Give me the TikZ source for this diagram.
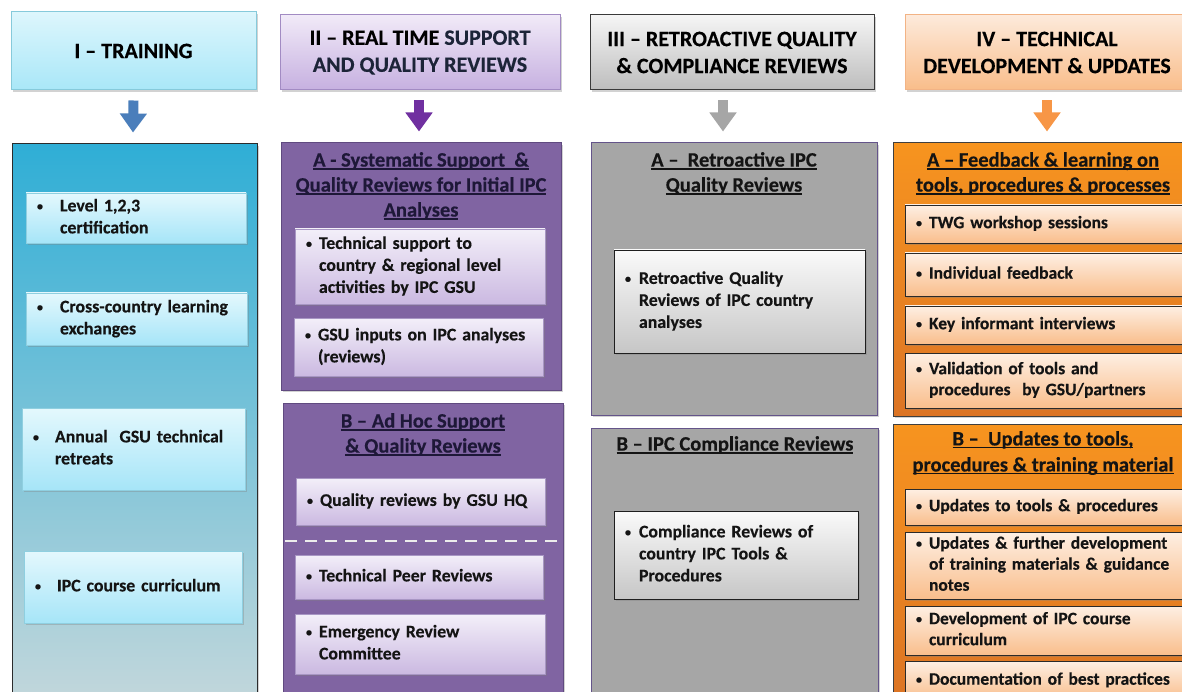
\documentclass[tikz,border=0pt]{standalone}
\usepackage{fontspec}
\setmainfont{Carlito}[BoldFeatures={FakeBold=0.35}]
\usetikzlibrary{shadows,arrows.meta,calc}

\definecolor{hAtop}{HTML}{DDF6FC}\definecolor{hAbot}{HTML}{A9E7F8}\definecolor{hAdraw}{HTML}{86CADB}
\definecolor{arA}{HTML}{4A7EBB}
\definecolor{mAtop}{HTML}{2FAED6}\definecolor{mAbot}{HTML}{C3D7DB}\definecolor{mAdraw}{HTML}{2B2B2B}
\definecolor{iAtop}{HTML}{E4F8FD}\definecolor{iAbot}{HTML}{A6E5F8}\definecolor{iAdraw}{HTML}{8FCFE0}
\definecolor{hBtop}{HTML}{F1EAF8}\definecolor{hBbot}{HTML}{C6B0E0}\definecolor{hBdraw}{HTML}{A28BC3}
\definecolor{arB}{HTML}{7030A0}
\definecolor{mB}{HTML}{8064A2}\definecolor{mBdraw}{HTML}{604A80}
\definecolor{iBtop}{HTML}{F3EFF9}\definecolor{iBbot}{HTML}{CBB9E1}\definecolor{iBdraw}{HTML}{A896C4}
\definecolor{tB}{HTML}{1E1838}\definecolor{hBtxt}{HTML}{1C2438}
\definecolor{hCtop}{HTML}{F5F5F5}\definecolor{hCbot}{HTML}{BDBDBD}\definecolor{hCdraw}{HTML}{3A3A3A}
\definecolor{arC}{HTML}{A6A6A6}
\definecolor{mC}{HTML}{A6A6A6}\definecolor{mCdraw}{HTML}{64548A}
\definecolor{iCtop}{HTML}{FAFAFA}\definecolor{iCbot}{HTML}{C6C6C6}\definecolor{iCdraw}{HTML}{1E1E1E}
\definecolor{hDtop}{HTML}{FDEADB}\definecolor{hDbot}{HTML}{F9BD8A}\definecolor{hDdraw}{HTML}{F2B385}
\definecolor{arD}{HTML}{F79646}
\definecolor{mDtop}{HTML}{F7941F}\definecolor{mDbot}{HTML}{DC7424}\definecolor{mDdraw}{HTML}{3F3F3F}
\definecolor{iDtop}{HTML}{FEEFE3}\definecolor{iDbot}{HTML}{F9BE8C}\definecolor{iDdraw}{HTML}{2A2A2A}
\definecolor{txt}{HTML}{141414}

\newcommand\smbul{\raisebox{1.2pt}{\fontsize{12}{12}\selectfont\textbullet}}
\newcommand\bitem[2][13pt]{\begin{tabular}{@{}p{#1}@{}l@{}}\smbul&\begin{tabular}[t]{@{}l@{}}#2\end{tabular}\end{tabular}}
\newcommand\ulx[1]{\setbox0=\hbox{#1}\rlap{\rule[-3pt]{\wd0}{1.1pt}}\box0}

\tikzset{
  sz/.style n args={3}{minimum width=#1pt, minimum height=#2pt, text width=#3pt},
  shd/.style={drop shadow={shadow xshift=1.5pt, shadow yshift=-2pt, opacity=0.35}},
  hdr/.style={rectangle, inner sep=0pt, align=center, line width=1pt, shd,
    font=\fontsize{22}{27}\selectfont\bfseries, text=black},
  panel/.style={rectangle, inner sep=0pt, line width=1pt, shd},
  ttl/.style={inner sep=0pt, align=center, font=\fontsize{20.5}{25}\selectfont\bfseries},
  itembox/.style={rectangle, inner xsep=11pt, inner ysep=0pt, align=left, line width=0.8pt, shd,
    font=\fontsize{17.8}{22}\selectfont\bfseries, text=txt},
  itA/.style={itembox, draw=iAdraw, top color=iAtop, bottom color=iAbot},
  itB/.style={itembox, draw=iBdraw, top color=iBtop, bottom color=iBbot},
  itC/.style={itembox, draw=iCdraw, top color=iCtop, bottom color=iCbot},
  itD/.style={itembox, draw=iDdraw, top color=iDtop, bottom color=iDbot, font=\fontsize{17.5}{21}\selectfont\bfseries},
  blkarrow/.style={draw=#1, line width=10pt, -{Triangle[width=26pt,length=19pt]}},
  sepline/.style={draw=white!85!gray, line width=1.6pt, dash pattern=on 12pt off 8pt}
}

\begin{document}
\begin{tikzpicture}[x=1pt,y=-1pt]
\useasboundingbox (0,0) rectangle (1182,692);
\fill[white] (0,0) rectangle (1182,692);
\clip (0,0) rectangle (1182,692);

% ---------- Column I ----------
\node[hdr, draw=hAdraw, top color=hAtop, bottom color=hAbot, minimum width=245pt, minimum height=78pt] (h1) at (133.5,51) {I – TRAINING};
\node[panel, draw=mAdraw, top color=mAtop, bottom color=mAbot, minimum width=245pt, minimum height=560pt] (m1) at (134.5,424) {};
\draw[blkarrow=arA] ($(h1.south)+(0,10)$) -- ($(m1.north)+(-1.5,-11)$);
\node[itA, sz={220}{50}{198}] (a1) at (136,218) {\bitem[23pt]{Level 1,2,3\\certification}};
\node[itA, sz={221}{52}{199}] (a2) at (136.5,319) {\bitem[23pt]{Cross-country learning\\exchanges}};
\node[itA, sz={223}{82}{201}] (a3) at (133.5,449) {\bitem[22pt]{Annual~ GSU technical\\retreats}};
\node[itA, sz={218}{72}{196}] (a4) at (133,587) {\bitem[22pt]{IPC course curriculum}};

% ---------- Column II ----------
\node[hdr, draw=hBdraw, top color=hBtop, bottom color=hBbot, minimum width=280pt, minimum height=75pt] (h2) at (420,52.5) {II – REAL TIME \textcolor{hBtxt}{SUPPORT}\\\textcolor{hBtxt}{AND QUALITY REVIEWS}};
\node[panel, draw=mBdraw, fill=mB, minimum width=280pt, minimum height=247pt] (bA2) at (421,266.5) {};
\node[panel, draw=mBdraw, fill=mB, minimum width=280pt, minimum height=300pt] (bB2) at (423,553) {};
\draw[blkarrow=arB] ($(h2.south)+(-1,10)$) -- ($(bA2.north)+(-2,-11)$);
\node[ttl, text=tB] (tA2) at (421,186) {\ulx{A - Systematic Support~ \&}\\\ulx{Quality Reviews for Initial IPC}\\\ulx{Analyses}};
\node[itB, sz={250}{75}{228}] (b1) at (420,266.5) {\bitem{Technical support to\\country \& regional level\\activities by IPC GSU}};
\node[itB, sz={249}{58}{227}] (b2) at (418.5,347) {\bitem{GSU inputs on IPC analyses\\(reviews)}};
\node[ttl, text=tB] (tB2) at (423,434.5) {\ulx{B – Ad Hoc Support}\\\ulx{\& Quality Reviews}};
\node[itB, sz={249}{47}{227}] (b3) at (420.5,501.5) {\bitem{Quality reviews by GSU HQ}};
\coordinate (d1) at (285,541);
\coordinate (d2) at (560,541);
\draw[sepline] (d1) -- (d2);
\node[itB, sz={248}{44}{226}] (b4) at (419,577) {\bitem{Technical Peer Reviews}};
\node[itB, sz={250}{60}{228}] (b5) at (420,644) {\bitem{Emergency Review\\Committee}};

% ---------- Column III ----------
\node[hdr, draw=hCdraw, top color=hCtop, bottom color=hCbot, minimum width=284pt, minimum height=75pt] (h3) at (732,52.5) {III – RETROACTIVE QUALITY\\\& COMPLIANCE REVIEWS};
\node[panel, draw=mCdraw, fill=mC, minimum width=286pt, minimum height=272pt] (bA3) at (734,279) {};
\node[panel, draw=mCdraw, fill=mC, minimum width=287pt, minimum height=276pt] (bB3) at (734.5,566) {};
\draw[blkarrow=arC] ($(h3.south)+(-9,10)$) -- ($(bA3.north)+(-11,-11)$);
\node[ttl, text=txt] (tA3) at (734,173.5) {\ulx{A –~ Retroactive IPC}\\\ulx{Quality Reviews}};
\node[itC, sz={251}{103}{229}] (c1) at (739.5,301.5) {\bitem[14pt]{Retroactive Quality\\Reviews of IPC country\\analyses}};
\node[ttl, text=txt] (tB3) at (735,445) {\ulx{B – IPC Compliance Reviews}};
\node[itC, sz={244}{88}{222}] (c2) at (736,555) {\bitem[14pt]{Compliance Reviews of\\country IPC Tools \&\\Procedures}};

% ---------- Column IV ----------
\node[hdr, draw=hDdraw, top color=hDtop, bottom color=hDbot, minimum width=284pt, minimum height=75pt] (h4) at (1047,52.5) {IV – TECHNICAL\\DEVELOPMENT \& UPDATES};
\node[panel, draw=mDdraw, top color=mDtop, bottom color=mDbot, minimum width=300pt, minimum height=273pt] (bA4) at (1043,279.5) {};
\node[panel, draw=mDdraw, top color=mDtop, bottom color=mDbot, minimum width=300pt, minimum height=276pt] (bB4) at (1043,562) {};
\draw[blkarrow=arD] ($(h4.south)+(0,10)$) -- ($(bA4.north)+(4,-11)$);
\node[ttl, text=txt] (tA4) at (1043,173.5) {\ulx{A – Feedback \& learning on}\\\ulx{tools, procedures \& processes}};
\node[itD, sz={290}{38}{268}] (e1) at (1050,224) {\bitem{TWG workshop sessions}};
\node[itD, sz={290}{43}{268}] (e2) at (1050,274.5) {\bitem{Individual feedback}};
\node[itD, sz={290}{38}{268}] (e3) at (1050,325) {\bitem{Key informant interviews}};
\node[itD, sz={290}{55}{268}] (e4) at (1050,380.5) {\bitem{Validation of tools and\\procedures~ by GSU/partners}};
\node[ttl, text=txt, font=\fontsize{20.5}{26}\selectfont\bfseries] (tB4) at (1043,453) {\ulx{B –~ Updates to tools,}\\\ulx{procedures \& training material}};
\node[itD, sz={290}{36}{268}] (f1) at (1050,507) {\bitem{Updates to tools \& procedures}};
\node[itD, sz={290}{67}{268}] (f2) at (1050,565.5) {\bitem{Updates \& further development\\of training materials \& guidance\\notes}};
\node[itD, sz={290}{49}{268}] (f3) at (1050,630.5) {\bitem{Development of IPC course\\curriculum}};
\node[itD, sz={290}{39}{268}] (f4) at (1050,680.5) {\bitem{Documentation of best practices}};
\end{tikzpicture}
\end{document}
